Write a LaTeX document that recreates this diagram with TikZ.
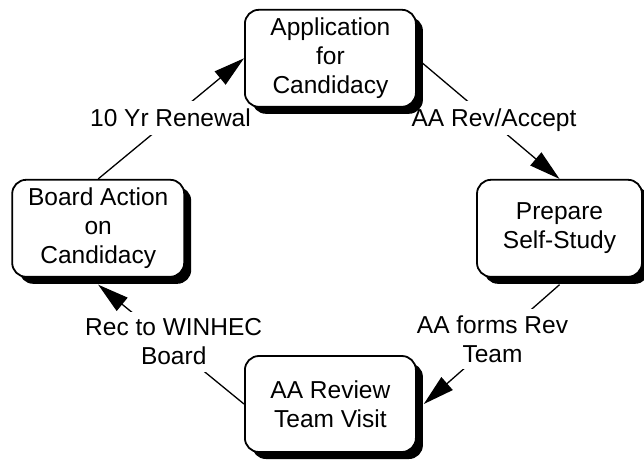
\documentclass[tikz,border=0pt]{standalone}
\usepackage{fontspec}
\setmainfont{Liberation Sans}
\usetikzlibrary{arrows.meta,shadows}
\pgfdeclarelayer{bg}
\pgfsetlayers{bg,main}
\begin{document}
\begin{tikzpicture}[x=1pt,y=-1pt,
  box/.style={draw, line width=1.8pt, rounded corners=14pt, fill=white, align=center, inner sep=0pt,
    font=\fontsize{24.5}{29}\selectfont,
    drop shadow={shadow xshift=7pt, shadow yshift=-7pt, fill=black, opacity=1}},
  conn/.style={line width=1.3pt, -{Triangle[length=31pt,width=17pt]}},
  lab/.style={fill=white, inner xsep=2pt, font=\fontsize{24.5}{29}\selectfont},
  labone/.style={lab, text height=21pt, text depth=5pt, inner ysep=4pt},
  labtwo/.style={lab, align=center, inner ysep=7pt}]
\useasboundingbox (0,0) rectangle (644,459);
\node[box, minimum width=171pt, minimum height=97pt] (tb) at (330.4,58.3) {Application\\for\\Candidacy};
\node[box, minimum width=172pt, minimum height=97pt] (lb) at (98.2,228.3) {Board Action\\on\\Candidacy};
\node[box, minimum width=165pt, minimum height=97pt] (rb) at (559.5,228.3) {Prepare\\Self-Study};
\node[box, minimum width=171pt, minimum height=96pt] (bb) at (330.4,404) {AA Review\\Team Visit};
\begin{pgfonlayer}{bg}
\draw[conn] (lb.north) -- (tb.west);
\draw[conn] (tb.east) -- (rb.north);
\draw[conn] ([yshift=-7pt]rb.south) -- ([xshift=7pt]bb.east);
\draw[conn] (bb.west) -- ([yshift=-7pt]lb.south);
\node[labone] (l1) at (170.5,118) {10 Yr Renewal};
\node[labone] (l2) at (494,118) {AA Rev/Accept};
\node[labtwo] (l3) at (492.5,339) {AA forms Rev\\Team};
\node[labtwo] (l4) at (173.7,342) {Rec to WINHEC\\Board};
\end{pgfonlayer}
\end{tikzpicture}
\end{document}
